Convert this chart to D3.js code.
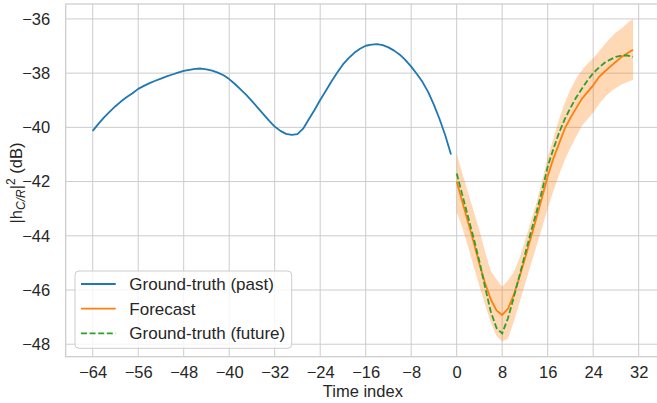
<!DOCTYPE html>
<html>
<head>
<meta charset="utf-8">
<script src="https://cdn.jsdelivr.net/npm/d3@7"></script>
<style>
  html, body { margin: 0; padding: 0; background: #ffffff; }
  svg { display: block; }
  text { font-family: "Liberation Sans", Arial, sans-serif; fill: #262626; }
</style>
</head>
<body>
<svg id="chart" width="657" height="403"></svg>
<script>
// ---- Data ----
const pastTime = [-64,-63,-62,-61,-60,-59,-58,-57,-56,-55,-54,-53,-52,-51,-50,-49,-48,-47,-46,-45,-44,-43,-42,-41,-40,-39,-38,-37,-36,-35,-34,-33,-32,-31,-30,-29,-28,-27,-26,-25,-24,-23,-22,-21,-20,-19,-18,-17,-16,-15,-14,-13,-12,-11,-10,-9,-8,-7,-6,-5,-4,-3,-2,-1];
const pastValues = [-40.13,-39.87,-39.63,-39.42,-39.22,-39.04,-38.88,-38.74,-38.58,-38.47,-38.37,-38.28,-38.20,-38.12,-38.05,-37.98,-37.92,-37.88,-37.84,-37.83,-37.86,-37.91,-37.98,-38.08,-38.22,-38.40,-38.60,-38.80,-39.03,-39.27,-39.51,-39.75,-39.97,-40.13,-40.24,-40.28,-40.25,-40.05,-39.70,-39.36,-38.99,-38.65,-38.30,-37.98,-37.68,-37.45,-37.25,-37.10,-36.99,-36.95,-36.93,-36.97,-37.05,-37.17,-37.32,-37.52,-37.76,-38.03,-38.33,-38.70,-39.17,-39.70,-40.30,-41.00];

const futureTime = [0,1,2,3,4,5,6,7,8,9,10,11,12,13,14,15,16,17,18,19,20,21,22,23,24,25,26,27,28,29,30,31];
const forecastValues = [-42.0,-42.75,-43.5,-44.25,-45.05,-45.75,-46.35,-46.75,-46.92,-46.7,-46.2,-45.55,-44.85,-44.1,-43.35,-42.6,-41.8,-41.15,-40.6,-40.05,-39.65,-39.3,-38.95,-38.7,-38.45,-38.15,-37.95,-37.76,-37.58,-37.4,-37.27,-37.14];
const futureTruthValues = [-41.7,-42.5,-43.3,-44.1,-44.95,-45.9,-46.8,-47.4,-47.6,-47.05,-46.3,-45.5,-44.7,-43.9,-43.15,-42.35,-41.45,-40.8,-40.2,-39.7,-39.28,-38.9,-38.58,-38.27,-38.0,-37.8,-37.62,-37.5,-37.4,-37.35,-37.35,-37.4];
const bandUpper = [-40.96,-41.7,-42.4,-43.1,-43.8,-44.6,-45.3,-45.6,-45.88,-45.65,-45.35,-44.85,-44.2,-43.5,-42.8,-42.0,-41.1,-40.4,-39.7,-39.1,-38.6,-38.2,-37.9,-37.65,-37.45,-37.2,-36.95,-36.7,-36.5,-36.35,-36.15,-36.0];
const bandLower = [-43.11,-43.7,-44.4,-45.15,-45.85,-46.55,-47.2,-47.7,-47.9,-47.8,-47.2,-46.5,-45.8,-45.1,-44.4,-43.7,-43.0,-42.35,-41.75,-41.2,-40.75,-40.35,-39.95,-39.7,-39.45,-39.15,-38.9,-38.7,-38.55,-38.42,-38.33,-38.25];

const xTicks = [-64,-56,-48,-40,-32,-24,-16,-8,0,8,16,24,32];
const yTicks = [-48,-46,-44,-42,-40,-38,-36];
const legendLabels = ["Ground-truth (past)", "Forecast", "Ground-truth (future)"];
const colors = { past: "#1f77b4", forecast: "#ff7f0e", future: "#2ca02c" };

// ---- Layout ----
const svg = d3.select("#chart");
const plot = { left: 65.7, right: 660, top: 4, bottom: 356.7 };

const x = d3.scaleLinear().domain([-68.75, 35.75]).range([plot.left, plot.right]);
const y = d3.scaleLinear().domain([-48.46, -35.45]).range([plot.bottom, plot.top]);

const fmt = d => (d < 0 ? "\u2212" + Math.abs(d) : String(d));
const FONT = '"Liberation Sans", Arial, sans-serif';

// grid
const grid = svg.append("g");
grid.selectAll("line.vx").data(xTicks).enter().append("line")
  .attr("x1", d => x(d)).attr("x2", d => x(d))
  .attr("y1", plot.top).attr("y2", plot.bottom)
  .attr("stroke", "#cccccc").attr("stroke-width", 1);
grid.selectAll("line.hy").data(yTicks).enter().append("line")
  .attr("x1", plot.left).attr("x2", plot.right)
  .attr("y1", d => y(d)).attr("y2", d => y(d))
  .attr("stroke", "#cccccc").attr("stroke-width", 1);

// frame
svg.append("rect")
  .attr("x", plot.left).attr("y", plot.top)
  .attr("width", plot.right - plot.left).attr("height", plot.bottom - plot.top)
  .attr("fill", "none").attr("stroke", "#cccccc").attr("stroke-width", 1.25);

// axes via d3
const xAxis = d3.axisBottom(x).tickValues(xTicks).tickFormat(fmt).tickSize(0).tickPadding(9.5);
const yAxis = d3.axisLeft(y).tickValues(yTicks).tickFormat(fmt).tickSize(0).tickPadding(15.5);

const gx = svg.append("g").attr("transform", `translate(0,${plot.bottom})`).call(xAxis);
gx.select(".domain").remove();
gx.selectAll("text").style("font-size", "16.5px").attr("fill", "#262626").style("font-family", FONT);

const gy = svg.append("g").attr("transform", `translate(${plot.left},0)`).call(yAxis);
gy.select(".domain").remove();
gy.selectAll("text").style("font-size", "16.5px").attr("fill", "#262626").style("font-family", FONT);

// ---- marks ----
const pastData = pastTime.map((t, i) => ({ t, v: pastValues[i] }));
const fut = futureTime.map((t, i) => ({
  t, f: forecastValues[i], g: futureTruthValues[i], lo: bandLower[i], hi: bandUpper[i]
}));

svg.append("path").datum(fut)
  .attr("d", d3.area().x(d => x(d.t)).y0(d => y(d.lo)).y1(d => y(d.hi)))
  .attr("fill", colors.forecast).attr("fill-opacity", 0.3).attr("stroke", "none");

svg.append("path").datum(pastData)
  .attr("d", d3.line().x(d => x(d.t)).y(d => y(d.v)))
  .attr("fill", "none").attr("stroke", colors.past).attr("stroke-width", 1.8)
  .attr("stroke-linejoin", "round");

svg.append("path").datum(fut)
  .attr("d", d3.line().x(d => x(d.t)).y(d => y(d.f)))
  .attr("fill", "none").attr("stroke", colors.forecast).attr("stroke-width", 1.8)
  .attr("stroke-linejoin", "round");

svg.append("path").datum(fut)
  .attr("d", d3.line().x(d => x(d.t)).y(d => y(d.g)))
  .attr("fill", "none").attr("stroke", colors.future).attr("stroke-width", 1.8)
  .attr("stroke-dasharray", "6,2.6");

// ---- axis labels ----
svg.append("text")
  .attr("x", (plot.left + plot.right) / 2).attr("y", 397)
  .attr("text-anchor", "middle").style("font-size", "16.5px")
  .text("Time index");

const yl = svg.append("text")
  .attr("transform", "translate(22,183) rotate(-90)")
  .attr("text-anchor", "middle").style("font-size", "16.5px");
yl.append("tspan").text("|h");
yl.append("tspan").attr("font-style", "italic").style("font-size", "12px").attr("dy", 3).text("C/R");
yl.append("tspan").attr("dy", -3).text("|");
yl.append("tspan").style("font-size", "12px").attr("dy", -7).text("2");
yl.append("tspan").attr("dy", 7).text(" (dB)");

// ---- legend ----
const lg = svg.append("g");
lg.append("rect")
  .attr("x", 75).attr("y", 271).attr("width", 216.7).attr("height", 77.3)
  .attr("rx", 4).attr("fill", "#ffffff").attr("fill-opacity", 0.8)
  .attr("stroke", "#cccccc").attr("stroke-width", 1);
const rows = [
  { label: legendLabels[0], color: colors.past, dash: null },
  { label: legendLabels[1], color: colors.forecast, dash: null },
  { label: legendLabels[2], color: colors.future, dash: "6,2.6" }
];
const rowY = [284, 308.7, 333.3];
rows.forEach((r, i) => {
  lg.append("line").attr("x1", 81).attr("x2", 115.7)
    .attr("y1", rowY[i]).attr("y2", rowY[i])
    .attr("stroke", r.color).attr("stroke-width", 1.8)
    .attr("stroke-dasharray", r.dash);
  lg.append("text").attr("x", 129.3).attr("y", rowY[i] + 6)
    .style("font-size", "17px").text(r.label);
});
</script>
</body>
</html>
